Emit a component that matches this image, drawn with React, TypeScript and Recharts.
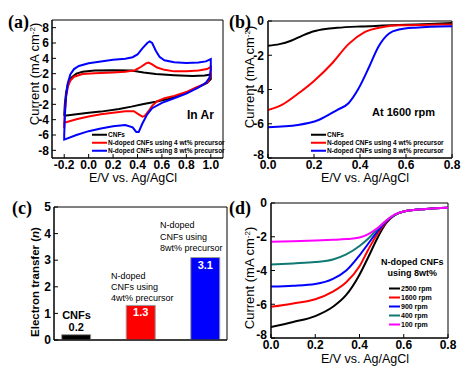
import React from 'react'
import {
  LineChart, Line, XAxis, YAxis, ReferenceArea, BarChart, Bar, Cell, LabelList,
} from 'recharts'

const SANS = '"Liberation Sans", Arial, sans-serif'
const SERIF = '"Liberation Serif", "Times New Roman", serif'

// (a) cyclic voltammograms in Ar: [E (V), I (mA cm-2)] in scan order
const cvCnfs: [number, number][] = [
  [-0.2, -3.5], [-0.195, -2.0], [-0.185, -0.5], [-0.17, 0.7], [-0.14, 1.5], [-0.1, 2.0],
  [-0.05, 2.25], [0.05, 2.4], [0.2, 2.45], [0.35, 2.4], [0.45, 2.15], [0.55, 1.95],
  [0.7, 1.8], [0.85, 1.7], [0.95, 1.75], [1.0, 1.9],
  [1.0, 1.3], [0.97, 0.8], [0.92, 0.4], [0.85, -0.1], [0.75, -0.8], [0.65, -1.3],
  [0.55, -1.65], [0.45, -1.95], [0.35, -2.3], [0.25, -2.6], [0.1, -2.95], [0.0, -3.1],
  [-0.1, -3.3], [-0.2, -3.5],
]
const cvN4: [number, number][] = [
  [-0.2, -5.1], [-0.195, -3.0], [-0.185, -1.0], [-0.17, 0.3], [-0.15, 1.1], [-0.12, 1.6],
  [-0.05, 1.95], [0.05, 2.05], [0.2, 2.15], [0.3, 2.25], [0.38, 2.45], [0.43, 2.9],
  [0.47, 3.35], [0.49, 3.45], [0.52, 3.2], [0.56, 2.8], [0.62, 2.5], [0.7, 2.3],
  [0.8, 2.3], [0.9, 2.4], [0.97, 2.6], [1.0, 2.9],
  [1.0, 1.8], [0.98, 1.0], [0.94, 0.6], [0.88, 0.2], [0.8, -0.4], [0.7, -0.9],
  [0.62, -1.2], [0.56, -1.6], [0.52, -2.2], [0.49, -2.9], [0.46, -3.5], [0.44, -3.6],
  [0.41, -3.3], [0.37, -2.9], [0.3, -2.9], [0.2, -3.1], [0.1, -3.3], [0.0, -3.6],
  [-0.1, -3.95], [-0.2, -4.4], [-0.2, -5.1],
]
const cvN8: [number, number][] = [
  [-0.2, -6.0], [-0.195, -3.5], [-0.185, -1.0], [-0.17, 0.8], [-0.15, 1.9], [-0.12, 2.6],
  [-0.08, 3.0], [0.0, 3.35], [0.1, 3.6], [0.2, 3.8], [0.3, 3.95], [0.36, 4.15],
  [0.4, 4.5], [0.44, 5.3], [0.48, 6.0], [0.5, 6.2], [0.52, 6.0], [0.55, 5.0],
  [0.58, 4.2], [0.62, 3.75], [0.7, 3.5], [0.8, 3.4], [0.9, 3.45], [0.96, 3.6], [1.0, 3.9],
  [1.0, 2.5], [0.99, 1.5], [0.96, 0.8], [0.9, 0.2], [0.8, -0.6], [0.7, -1.2],
  [0.6, -1.8], [0.52, -2.5], [0.48, -3.3], [0.44, -4.5], [0.41, -5.6], [0.39, -5.6],
  [0.36, -5.0], [0.3, -4.7], [0.2, -4.85], [0.1, -5.15], [0.0, -5.5], [-0.1, -6.0],
  [-0.2, -6.6], [-0.2, -6.0],
]

// (b) LSV at 1600 rpm
const lsvCnfs: [number, number][] = [
  [0, -1.45], [0.05, -1.35], [0.1, -1.15], [0.15, -0.85], [0.2, -0.6], [0.25, -0.47],
  [0.3, -0.4], [0.4, -0.32], [0.5, -0.27], [0.6, -0.22], [0.7, -0.18], [0.8, -0.12],
]
const lsvN4: [number, number][] = [
  [0, -5.2], [0.06, -4.9], [0.13, -4.25], [0.2, -3.5], [0.28, -2.45], [0.35, -1.35],
  [0.42, -0.65], [0.5, -0.35], [0.57, -0.25], [0.7, -0.22], [0.8, -0.2],
]
const lsvN8: [number, number][] = [
  [0, -6.2], [0.13, -6.07], [0.22, -5.78], [0.3, -5.2], [0.35, -4.8], [0.39, -4.03],
  [0.44, -2.67], [0.48, -1.5], [0.525, -0.74], [0.57, -0.5], [0.64, -0.39], [0.8, -0.31],
]

// (c) electron transfer number
const etLabels = ['CNFs', 'N-doped CNFs using 4wt% precursor', 'N-doped CNFs using 8wt% precursor']
const etValues = [0.2, 1.3, 3.1]

// (d) rotating speed dependence, N-doped CNFs using 8wt%
const rdePotential = [0, 0.1, 0.2, 0.28, 0.34, 0.4, 0.44, 0.48, 0.52, 0.56, 0.6, 0.7, 0.8]
const rde2500 = [-7.35, -7.05, -6.7, -6.15, -5.45, -4.25, -3.2, -2.1, -1.2, -0.7, -0.5, -0.35, -0.28]
const rde1600 = [-6.15, -5.95, -5.7, -5.25, -4.7, -3.75, -2.75, -1.85, -1.15, -0.7, -0.5, -0.35, -0.28]
const rde900 = [-4.95, -4.9, -4.8, -4.5, -4.0, -3.1, -2.4, -1.7, -1.1, -0.7, -0.5, -0.35, -0.28]
const rde400 = [-3.65, -3.58, -3.5, -3.35, -3.05, -2.55, -2.1, -1.55, -1.05, -0.7, -0.5, -0.35, -0.28]
const rde100 = [-2.3, -2.26, -2.22, -2.18, -2.14, -2.05, -1.85, -1.5, -1.05, -0.68, -0.5, -0.35, -0.28]

const seriesLegend = ['CNFs', 'N-doped CNFs using 4 wt% precursor', 'N-doped CNFs using 8 wt% precursor']
const seriesColors = ['#000000', '#ff0000', '#0000ff']
const rpmLabels = ['2500 rpm', '1600 rpm', '900 rpm', '400 rpm', '100 rpm']
const rpmColors = ['#000000', '#ff0000', '#0000ff', '#117a72', '#ff00ff']

const toXY = (pts: [number, number][]) => pts.map(([x, y]) => ({ x, y }))
const rdeSeries = [rde2500, rde1600, rde900, rde400, rde100].map(vals =>
  rdePotential.map((x, i) => ({ x, y: vals[i] })))

const tickStyle = { fontSize: 12, fontWeight: 'bold' as const, fill: '#000', fontFamily: SANS }

// y tick for the LSV panels: bottom label lifted a little so it clears the 0.0 x label
function LsvYTick(props: any) {
  const { x, y, payload } = props
  const lift = payload.value === -8 ? -3 : 0
  return (
    <text x={x} y={y + lift} dy="0.355em" textAnchor="end" {...tickStyle}>{payload.value}</text>
  )
}

function Abs({ x, y, children, style }: { x: number; y: number; children: React.ReactNode; style?: React.CSSProperties }) {
  return (
    <div style={{ position: 'absolute', left: x, top: y, whiteSpace: 'nowrap', lineHeight: 1, ...style }}>
      {children}
    </div>
  )
}

function VTitle({ cx, cy, children, style }: { cx: number; cy: number; children: React.ReactNode; style?: React.CSSProperties }) {
  return (
    <div style={{
      position: 'absolute', left: cx, top: cy, transform: 'translate(-50%, -50%) rotate(-90deg)',
      whiteSpace: 'nowrap', fontSize: 13, fontFamily: SANS, lineHeight: 1, ...style,
    }}>
      {children}
    </div>
  )
}

function HTitle({ cx, cy, children }: { cx: number; cy: number; children: React.ReactNode }) {
  return (
    <div style={{
      position: 'absolute', left: cx, top: cy, transform: 'translate(-50%, -50%)',
      whiteSpace: 'nowrap', fontSize: 12.5, fontFamily: SANS, lineHeight: 1,
    }}>
      {children}
    </div>
  )
}

const currentTitle = <>Current (mA cm<sup style={{ fontSize: 8, verticalAlign: 4 }}>-2</sup>)</>

function Legend({ x, y, labels, colors, gap, size, lineW }: {
  x: number; y: number; labels: string[]; colors: string[]; gap: number; size: number; lineW: number
}) {
  return (
    <>
      {labels.map((l, i) => (
        <div key={l} style={{ position: 'absolute', left: x, top: y + i * gap, display: 'flex', alignItems: 'center', transform: 'translateY(-50%)' }}>
          <span style={{ width: lineW, height: 2, background: colors[i], display: 'inline-block', marginRight: 1 }} />
          <span style={{ fontSize: size, fontFamily: SANS, fontWeight: 'bold', whiteSpace: 'nowrap', lineHeight: 1 }}>{l}</span>
        </div>
      ))}
    </>
  )
}

function Frame({ x, y }: { x: [number, number]; y: [number, number] }) {
  return <ReferenceArea x1={x[0]} x2={x[1]} y1={y[0]} y2={y[1]} fill="none" stroke="#000" strokeWidth={1} ifOverflow="visible" />
}

export default function App() {
  const fmt1 = (v: number) => v.toFixed(1)
  const fmtInt = (v: number) => String(v)

  return (
    <div style={{ position: 'absolute', left: 0, top: 0, width: 465, height: 377, background: '#fff', fontFamily: SANS, overflow: 'hidden' }}>
      {/* (a) CV */}
      <div style={{ position: 'absolute', left: 0, top: 0 }}>
        <LineChart width={232} height={190} margin={{ top: 20, right: 9, bottom: 12, left: 24 }}>
          <XAxis type="number" dataKey="x" domain={[-0.3, 1.1]} ticks={[-0.2, 0, 0.2, 0.4, 0.6, 0.8, 1.0]}
            tickFormatter={fmt1} tick={tickStyle} tickSize={-4} tickMargin={6} interval={0}
            height={20} stroke="#000" allowDataOverflow />
          <YAxis type="number" domain={[-9, 9]} ticks={[-8, -6, -4, -2, 0, 2, 4, 6, 8]}
            tickFormatter={fmtInt} tick={tickStyle} tickSize={-4} tickMargin={7} interval={0}
            width={28} stroke="#000" allowDataOverflow />
          <Frame x={[-0.3, 1.1]} y={[-9, 9]} />
          {[cvCnfs, cvN4, cvN8].map((d, i) => (
            <Line key={i} data={toXY(d)} dataKey="y" type="linear" stroke={seriesColors[i]}
              strokeWidth={2} dot={false} isAnimationActive={false} />
          ))}
        </LineChart>
      </div>

      {/* (b) LSV */}
      <div style={{ position: 'absolute', left: 232, top: 0 }}>
        <LineChart width={233} height={190} margin={{ top: 21, right: 13, bottom: 12, left: 12 }}>
          <XAxis type="number" dataKey="x" domain={[0, 0.8]} ticks={[0, 0.2, 0.4, 0.6, 0.8]}
            tickFormatter={fmt1} tick={tickStyle} tickSize={-4} tickMargin={6} interval={0}
            height={20} stroke="#000" allowDataOverflow />
          <YAxis type="number" domain={[-8, 0]} ticks={[-8, -6, -4, -2, 0]}
            tick={<LsvYTick />} tickSize={-4} tickMargin={8} interval={0}
            width={24} stroke="#000" allowDataOverflow />
          <Frame x={[0, 0.8]} y={[-8, 0]} />
          {[lsvCnfs, lsvN4, lsvN8].map((d, i) => (
            <Line key={i} data={toXY(d)} dataKey="y" type="monotone" stroke={seriesColors[i]}
              strokeWidth={2} dot={false} isAnimationActive={false} />
          ))}
        </LineChart>
      </div>

      {/* (c) electron transfer */}
      <div style={{ position: 'absolute', left: 0, top: 190 }}>
        <BarChart width={232} height={187} data={etValues.map((n, i) => ({ pos: i + 1, n, name: etLabels[i] }))}
          margin={{ top: 17, right: 5, bottom: 17, left: 30 }}>
          <XAxis type="number" dataKey="pos" domain={[0.66, 3.34]} tick={false} tickLine={false}
            height={20} stroke="#000" allowDataOverflow />
          <YAxis type="number" domain={[0, 5]} ticks={[0, 1, 2, 3, 4, 5]}
            tick={tickStyle} tickSize={-4} tickMargin={7} interval={0}
            width={24} stroke="#000" allowDataOverflow />
          <Frame x={[0.66, 3.34]} y={[0, 5]} />
          <Bar dataKey="n" barSize={29} stroke="#9a9a9a" strokeWidth={1} isAnimationActive={false}>
            {etValues.map((_, i) => <Cell key={i} fill={seriesColors[i]} />)}
            <LabelList dataKey="n" content={(p: any) => {
              const inside = p.value > 1
              return (
                <text x={p.x + p.width / 2} y={inside ? p.y + 11 : p.y - 4} textAnchor="middle"
                  fontSize={11} fontWeight="bold" fontFamily={SANS} fill={inside ? '#fff' : '#000'}>
                  {Number(p.value).toFixed(1)}
                </text>
              )
            }} />
          </Bar>
        </BarChart>
      </div>

      {/* (d) RDE */}
      <div style={{ position: 'absolute', left: 232, top: 190 }}>
        <LineChart width={233} height={187} margin={{ top: 13, right: 17, bottom: 19, left: 15 }}>
          <XAxis type="number" dataKey="x" domain={[0, 0.8]} ticks={[0, 0.2, 0.4, 0.6, 0.8]}
            tickFormatter={fmt1} tick={tickStyle} tickSize={-4} tickMargin={6} interval={0}
            height={20} stroke="#000" allowDataOverflow />
          <YAxis type="number" domain={[-8, 0]} ticks={[-8, -6, -4, -2, 0]}
            tick={<LsvYTick />} tickSize={-4} tickMargin={8} interval={0}
            width={24} stroke="#000" allowDataOverflow />
          <Frame x={[0, 0.8]} y={[-8, 0]} />
          {rdeSeries.map((d, i) => (
            <Line key={i} data={d} dataKey="y" type="monotone" stroke={rpmColors[i]}
              strokeWidth={2} dot={false} isAnimationActive={false} />
          ))}
        </LineChart>
      </div>

      {/* axis titles */}
      <VTitle cx={34} cy={74}>{currentTitle}</VTitle>
      <HTitle cx={133} cy={178}>E/V vs. Ag/AgCl</HTitle>
      <VTitle cx={249} cy={77}>{currentTitle}</VTitle>
      <HTitle cx={365} cy={178}>E/V vs. Ag/AgCl</HTitle>
      <VTitle cx={36} cy={282} style={{ fontSize: 11.5, fontWeight: 'bold' }}>Electron transfer (<i>n</i>)</VTitle>
      <VTitle cx={249} cy={278}>{currentTitle}</VTitle>
      <HTitle cx={365} cy={359}>E/V vs. Ag/AgCl</HTitle>

      {/* panel letters */}
      {[['(a)', 8, 13], ['(b)', 229, 13], ['(c)', 12, 199], ['(d)', 229, 199]].map(([t, x, y]) => (
        <Abs key={t as string} x={x as number} y={y as number} style={{ fontFamily: SERIF, fontWeight: 'bold', fontSize: 18 }}>{t}</Abs>
      ))}

      {/* annotations */}
      <Abs x={187} y={109} style={{ fontSize: 12, fontWeight: 'bold' }}>In Ar</Abs>
      <Abs x={372} y={107} style={{ fontSize: 11, fontWeight: 'bold' }}>At 1600 rpm</Abs>
      <Legend x={92} y={135} labels={seriesLegend} colors={seriesColors} gap={8} size={6.5} lineW={15} />
      <Legend x={311} y={135} labels={seriesLegend} colors={seriesColors} gap={8} size={6.5} lineW={15} />
      <Abs x={381} y={257} style={{ fontSize: 9, fontWeight: 'bold', textAlign: 'center', lineHeight: '11px' }}>
        N-doped CNFs<br />using 8wt%
      </Abs>
      <Legend x={389} y={288} labels={rpmLabels} colors={rpmColors} gap={9} size={7} lineW={11} />

      {/* (c) bar descriptions */}
      <Abs x={62} y={310} style={{ fontSize: 11, fontWeight: 'bold', width: 29, textAlign: 'center' }}>CNFs</Abs>
      <Abs x={111} y={271} style={{ fontSize: 9, lineHeight: '11px' }}>N-doped<br />CNFs using<br />4wt% precursor</Abs>
      <Abs x={160} y={220} style={{ fontSize: 9, lineHeight: '11.5px' }}>N-doped<br />CNFs using<br />8wt% precursor</Abs>
    </div>
  )
}
